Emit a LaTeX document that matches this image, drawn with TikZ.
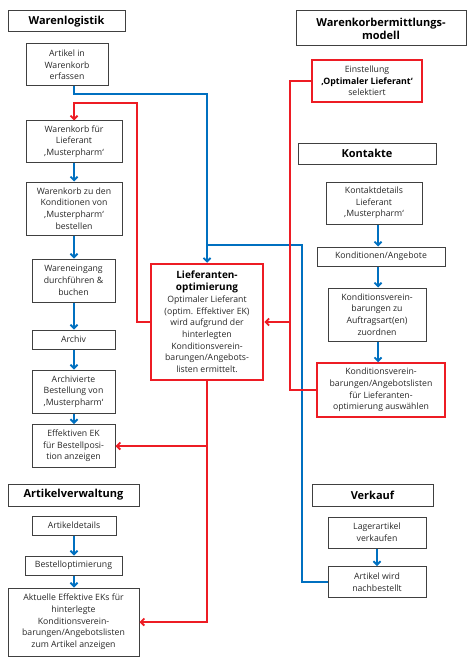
\documentclass[tikz,border=0pt]{standalone}
\usepackage{fontspec}
\setmainfont{Open Sans}
\usetikzlibrary{arrows.meta}
\definecolor{cblue}{RGB}{0,112,192}
\definecolor{cred}{RGB}{237,28,36}
\definecolor{cframe}{RGB}{64,64,64}
\definecolor{ctext}{RGB}{40,40,40}
\newcommand\lotitle[1]{\textcolor{black}{\fontsize{10}{12}\selectfont\bfseries #1}}
\newcommand\blk[1]{\textcolor{black}{\fontsize{8.8}{11.7}\selectfont\bfseries #1}}
\tikzset{
  box/.style={draw=cframe, line width=1pt, fill=white, inner sep=0pt, align=center,
    text=ctext, font=\fontsize{8.7}{11.7}\selectfont},
  hbox/.style={box, font=\fontsize{11}{13}\selectfont\bfseries, text=black},
  rbox/.style={box, draw=cred, line width=1.5pt},
  lobox/.style={box, draw=cred, line width=2.5pt},
  arr/.style={-{Straight Barb[length=3.5pt,width=7pt]}},
  bl/.style={draw=cblue, line width=1.8pt},
  rl/.style={draw=cred, line width=1.8pt},
}
\begin{document}
\begin{tikzpicture}[x=1pt,y=-1pt]
\useasboundingbox (0,0) rectangle (474,666);
% Warenlogistik column
\node[hbox, minimum width=117, minimum height=21] (hWL) at (66.5,21.5) {Warenlogistik};
\node[box, minimum width=82, minimum height=42] (art) at (67,65) {Artikel in\\Warenkorb\\erfassen};
\node[box, minimum width=96, minimum height=41] (wkl) at (74,141.5) {Warenkorb für\\Lieferant\\‚Musterpharm‘};
\node[box, minimum width=96, minimum height=53] (wkk) at (74,208.5) {Warenkorb zu den\\Konditionen von\\‚Musterpharm‘\\bestellen};
\node[box, minimum width=83, minimum height=43] (we) at (73.5,280.5) {Wareneingang\\durchführen \&\\buchen};
\node[box, minimum width=83, minimum height=19] (arv) at (73.5,339.5) {Archiv};
\node[box, minimum width=83, minimum height=43] (arb) at (73.5,391.5) {Archivierte\\Bestellung von\\‚Musterpharm‘};
\node[box, minimum width=83, minimum height=43] (eff) at (73.5,446) {Effektiven EK\\für Bestellposi-\\tion anzeigen};
% Lieferantenoptimierung
\node[lobox, minimum width=112, minimum height=116] (lo) at (207,322) {\lotitle{Lieferanten-}\\\lotitle{optimierung}\\Optimaler Lieferant\\(optim. Effektiver EK)\\wird aufgrund der\\hinterlegten\\Konditionsverein-\\barungen/Angebots-\\listen ermittelt.};
% right column
\node[hbox, minimum width=170, minimum height=35] (hWM) at (381,28.5) {Warenkorbermittlungs-\\modell};
\node[rbox, minimum width=110, minimum height=42] (ein) at (367,81) {Einstellung\\\blk{‚Optimaler Lieferant‘}\\selektiert};
\node[hbox, minimum width=138, minimum height=21] (hK) at (367,153.5) {Kontakte};
\node[box, minimum width=96, minimum height=42] (kd) at (374,203) {Kontaktdetails\\Lieferant\\‚Musterpharm‘};
\node[box, minimum width=128, minimum height=19] (ka) at (381,256.5) {Konditionen/Angebote};
\node[box, minimum width=98, minimum height=53] (kvz) at (377,314.5) {Konditionsverein-\\barungen zu\\Auftragsart(en)\\zuordnen};
\node[rbox, minimum width=128, minimum height=54] (kvl) at (381,390) {Konditionsverein-\\barungen/Angebotslisten\\für Lieferanten-\\optimierung auswählen};
% Artikelverwaltung
\node[hbox, minimum width=131, minimum height=22] (hAV) at (73.5,495) {Artikelverwaltung};
\node[box, minimum width=84, minimum height=19] (ad) at (74,525.5) {Artikeldetails};
\node[box, minimum width=97, minimum height=19] (bo) at (73.5,565.5) {Bestelloptimierung};
\node[box, minimum width=131, minimum height=68] (ak) at (73.5,622) {Aktuelle Effektive EKs für\\hinterlegte\\Konditionsverein-\\barungen/Angebotslisten\\zum Artikel anzeigen};
% Verkauf
\node[hbox, minimum width=121, minimum height=22] (hV) at (372.5,495) {Verkauf};
\node[box, minimum width=98, minimum height=31] (la) at (377,532.5) {Lagerartikel\\verkaufen};
\node[box, minimum width=98, minimum height=31] (awn) at (377,582) {Artikel wird\\nachbestellt};
% helper coordinates
\coordinate (lx) at (74,0);
\coordinate (kx) at (378,0);
\coordinate (bj) at (207,94);
\coordinate (bj2) at (302,245);
\coordinate (r1) at (137,103);
\coordinate (rx) at (290,0);
% blue connectors
\draw[bl, arr] (art.south -| lx) |- (bj) -- (lo.north);
\draw[bl] (awn.west) -| (bj2) -- (bj2 -| lo.north);
\draw[bl, arr] (wkl.south -| lx) -- (wkk.north -| lx);
\draw[bl, arr] (wkk.south -| lx) -- (we.north -| lx);
\draw[bl, arr] (we.south -| lx) -- (arv.north -| lx);
\draw[bl, arr] (arv.south -| lx) -- (arb.north -| lx);
\draw[bl, arr] (arb.south -| lx) -- (eff.north -| lx);
\draw[bl, arr] (kd.south -| kx) -- (ka.north -| kx);
\draw[bl, arr] (ka.south -| kx) -- (kvz.north -| kx);
\draw[bl, arr] (kvz.south -| kx) -- (kvl.north -| kx);
\draw[bl, arr] (ad.south -| lx) -- (bo.north -| lx);
\draw[bl, arr] (bo.south -| lx) -- (ak.north -| lx);
\draw[bl, arr] (la.south) -- (awn.north);
% red connectors
\draw[rl, arr] (lo.west) -| (r1) -| (wkl.north -| lx);
\draw[rl, arr] (ein.west) -| (rx |- lo.east) -- (lo.east);
\draw[rl] (kvl.west) -| (rx |- lo.east);
\draw[rl, arr] (lo.south) |- (ak.east);
\draw[rl, arr] (lo.south |- eff.east) -- (eff.east);
\end{tikzpicture}
\end{document}
